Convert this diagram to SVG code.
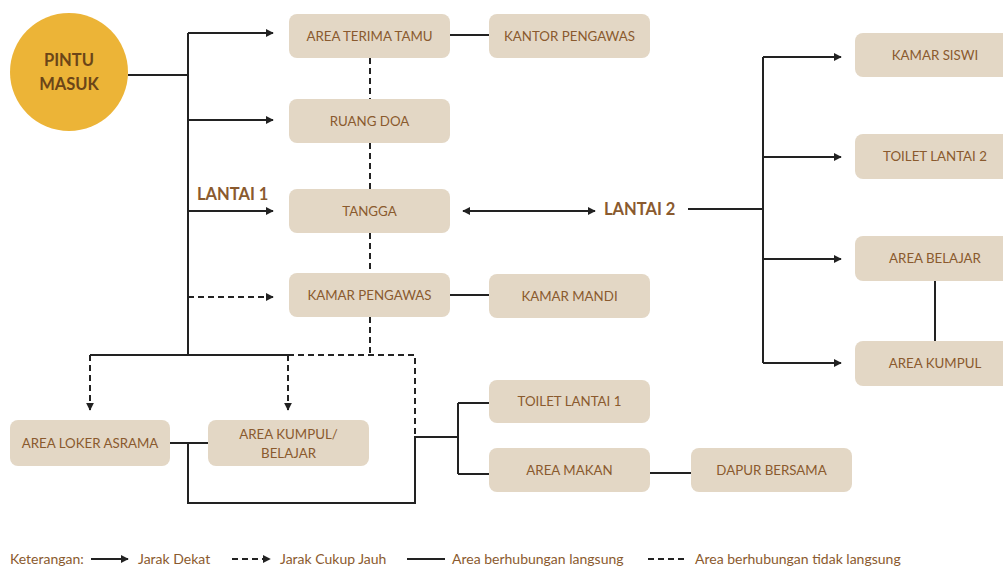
<svg xmlns="http://www.w3.org/2000/svg" width="1003" height="567" viewBox="0 0 1003 567">
<defs>
<marker id="ah" viewBox="0 0 10 10" refX="9" refY="5" markerWidth="4" markerHeight="4" orient="auto-start-reverse"><path d="M0,0 L10,5 L0,10 z" fill="#222"/></marker>
<style>
.box{fill:#E3D7C5}
.t{font-family:Lato,"Liberation Sans",sans-serif;font-size:13.3px;fill:#8A5A2E;text-anchor:middle}
.ln{stroke:#222;stroke-width:2;fill:none}
.dl{stroke:#222;stroke-width:2;fill:none;stroke-dasharray:6,4}
.lbl{font-family:Lato,"Liberation Sans",sans-serif;font-size:16.5px;font-weight:bold;fill:#8A5A2E}
.lg{font-family:Lato,"Liberation Sans",sans-serif;font-size:14px;fill:#8A5A2E}
</style>
</defs>
<rect width="1003" height="567" fill="#fff"/>
<g id="connectors">
<path class="ln" d="M128,75 H188 M188,33 V355"/>
<path class="ln" d="M188,33 H273" marker-end="url(#ah)"/>
<path class="ln" d="M188,120 H273" marker-end="url(#ah)"/>
<path class="ln" d="M188,211 H273" marker-end="url(#ah)"/>
<path class="dl" d="M188,297 H273" marker-end="url(#ah)"/>
<path class="ln" d="M450,35 H489"/>
<path class="ln" d="M450,295 H489"/>
<path class="dl" d="M370,58 V99 M370,143 V189 M370,233 V273 M370,317 V355"/>
<path class="ln" d="M463,211 H595" marker-start="url(#ah)" marker-end="url(#ah)"/>
<path class="ln" d="M688,209 H763 M763,57 V363"/>
<path class="ln" d="M763,57 H841" marker-end="url(#ah)"/>
<path class="ln" d="M763,157 H841" marker-end="url(#ah)"/>
<path class="ln" d="M763,259 H841" marker-end="url(#ah)"/>
<path class="ln" d="M763,363 H841" marker-end="url(#ah)"/>
<path class="ln" d="M935,281 V341"/>
<path class="ln" d="M90,355 H288"/>
<path class="dl" d="M288,355 H415 V437"/>
<path class="dl" d="M90,355 V410" marker-end="url(#ah)"/>
<path class="dl" d="M288,355 V410" marker-end="url(#ah)"/>
<path class="ln" d="M170,443 H208 M188,443 V503 H415 V437 H458 M458,403 V474 M458,403 H489 M458,474 H489"/>
<path class="ln" d="M650,473 H691"/>
</g>
<g id="pintu-masuk">
<circle cx="69" cy="72" r="59" fill="#ECB437"/>
<text x="69" y="66" font-family="Lato,'Liberation Sans',sans-serif" font-size="16.5" font-weight="bold" fill="#6B4518" text-anchor="middle">PINTU</text>
<text x="69" y="90" font-family="Lato,'Liberation Sans',sans-serif" font-size="16.5" font-weight="bold" fill="#6B4518" text-anchor="middle">MASUK</text>
</g>
<g id="area-terima-tamu"><rect class="box" x="289" y="14" width="161" height="44" rx="8"/><text class="t" x="369.5" y="41">AREA TERIMA TAMU</text></g>
<g id="kantor-pengawas"><rect class="box" x="489" y="14" width="161" height="44" rx="8"/><text class="t" x="569.5" y="41">KANTOR PENGAWAS</text></g>
<g id="ruang-doa"><rect class="box" x="289" y="99" width="161" height="44" rx="8"/><text class="t" x="369.5" y="126">RUANG DOA</text></g>
<g id="tangga"><rect class="box" x="289" y="189" width="161" height="44" rx="8"/><text class="t" x="369.5" y="216">TANGGA</text></g>
<g id="kamar-pengawas"><rect class="box" x="289" y="273" width="161" height="44" rx="8"/><text class="t" x="369.5" y="300">KAMAR PENGAWAS</text></g>
<g id="kamar-mandi"><rect class="box" x="489" y="274" width="161" height="44" rx="8"/><text class="t" x="569.5" y="301">KAMAR MANDI</text></g>
<g id="lantai-1"><text class="lbl" x="197" y="200">LANTAI 1</text></g>
<g id="lantai-2"><text class="lbl" x="604" y="215">LANTAI 2</text></g>
<g id="kamar-siswi"><rect class="box" x="855" y="33" width="161" height="44" rx="8"/><text class="t" x="935" y="60">KAMAR SISWI</text></g>
<g id="toilet-lantai-2"><rect class="box" x="855" y="134" width="161" height="45" rx="8"/><text class="t" x="935" y="161">TOILET LANTAI 2</text></g>
<g id="area-belajar"><rect class="box" x="855" y="236" width="161" height="45" rx="8"/><text class="t" x="935" y="263">AREA BELAJAR</text></g>
<g id="area-kumpul"><rect class="box" x="855" y="341" width="161" height="45" rx="8"/><text class="t" x="935" y="368">AREA KUMPUL</text></g>
<g id="area-loker-asrama"><rect class="box" x="10" y="420" width="160" height="46" rx="8"/><text class="t" x="90" y="448">AREA LOKER ASRAMA</text></g>
<g id="area-kumpul-belajar"><rect class="box" x="208" y="420" width="161" height="46" rx="8"/><text class="t" x="288.5" y="439">AREA KUMPUL/</text><text class="t" x="288.5" y="458">BELAJAR</text></g>
<g id="toilet-lantai-1"><rect class="box" x="489" y="380" width="161" height="43" rx="8"/><text class="t" x="569.5" y="406">TOILET LANTAI 1</text></g>
<g id="area-makan"><rect class="box" x="489" y="448" width="161" height="44" rx="8"/><text class="t" x="569.5" y="475">AREA MAKAN</text></g>
<g id="dapur-bersama"><rect class="box" x="691" y="448" width="161" height="44" rx="8"/><text class="t" x="771.5" y="475">DAPUR BERSAMA</text></g>
<g id="legend">
<text class="lg" x="10" y="564">Keterangan:</text>
<path class="ln" d="M91,559 H128" stroke-width="1.5" marker-end="url(#ah)"/>
<text class="lg" x="138" y="564">Jarak Dekat</text>
<path class="dl" d="M232,559 H270" stroke-width="1.5" stroke-dasharray="5,3" marker-end="url(#ah)"/>
<text class="lg" x="280" y="564">Jarak Cukup Jauh</text>
<path class="ln" d="M407,559 H445" stroke-width="1.5"/>
<text class="lg" x="452" y="564">Area berhubungan langsung</text>
<path class="dl" d="M648,559 H688" stroke-width="1.5" stroke-dasharray="5,3"/>
<text class="lg" x="695" y="564">Area berhubungan tidak langsung</text>
</g>
</svg>
